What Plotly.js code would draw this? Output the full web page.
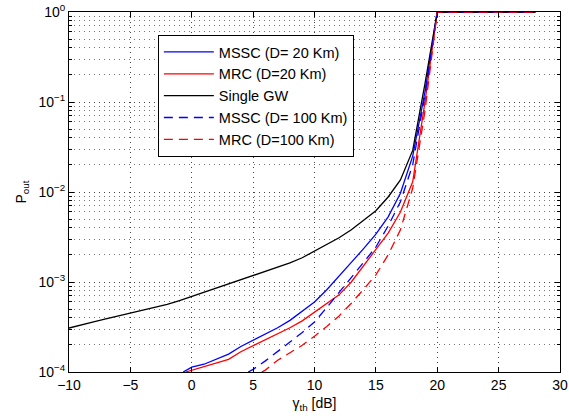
<!DOCTYPE html>
<html>
<head>
<meta charset="utf-8">
<script src="https://cdn.plot.ly/plotly-3.0.1.min.js"></script>
<style>html,body{margin:0;padding:0;background:#fff;}#chart{width:569px;height:420px;}</style>
</head>
<body>
<div id="chart"></div>
<script>
// gamma_th [dB] and outage probability values
const xSingle = [-10, -9, -8, -7, -6, -5, -4, -3, -2, -1, 0, 1, 2, 3, 4, 5, 6, 7, 8, 9, 10, 11, 12, 13, 14, 15, 16, 17, 18, 19, 20, 28];
const ySingle = [3.08e-4, 3.3e-4, 3.6e-4, 3.9e-4, 4.2e-4, 4.5e-4, 4.85e-4, 5.25e-4, 5.65e-4, 6.2e-4, 6.9e-4, 7.7e-4, 8.6e-4, 9.6e-4, 1.07e-3, 1.2e-3, 1.32e-3, 1.46e-3, 1.63e-3, 1.86e-3, 2.2e-3, 2.6e-3, 3.1e-3, 3.8e-3, 4.8e-3, 6.2e-3, 8.8e-3, 1.36e-2, 2.9e-2, 0.16, 1, 1];

const xMssc20 = [-0.7, 0, 1, 2, 3, 4, 5, 6, 7, 8, 9, 10, 11, 12, 13, 14, 15, 16, 17, 18, 19, 20, 28];
const yMssc20 = [1e-4, 1.13e-4, 1.22e-4, 1.38e-4, 1.58e-4, 1.92e-4, 2.25e-4, 2.65e-4, 3.1e-4, 3.75e-4, 4.8e-4, 6.0e-4, 8.2e-4, 1.15e-3, 1.65e-3, 2.35e-3, 3.4e-3, 5.3e-3, 9.7e-3, 2.5e-2, 0.13, 1, 1];

const xMrc20 = [-0.5, 0, 1, 2, 3, 4, 5, 6, 7, 8, 9, 10, 11, 12, 13, 14, 15, 16, 17, 18, 19, 20, 28];
const yMrc20 = [1e-4, 1.05e-4, 1.15e-4, 1.26e-4, 1.38e-4, 1.68e-4, 1.95e-4, 2.3e-4, 2.65e-4, 3.1e-4, 3.7e-4, 4.6e-4, 5.7e-4, 7.2e-4, 1.0e-3, 1.5e-3, 2.3e-3, 3.5e-3, 6e-3, 1.3e-2, 0.1, 1, 1];

const xMssc100 = [4.6, 5, 6, 7, 8, 9, 10, 11, 12, 13, 14, 15, 16, 17, 18, 19, 20, 28];
const yMssc100 = [1e-4, 1.07e-4, 1.33e-4, 1.68e-4, 2.15e-4, 2.75e-4, 3.6e-4, 5.2e-4, 7.6e-4, 1.1e-3, 1.65e-3, 2.45e-3, 4.2e-3, 7.8e-3, 2.0e-2, 0.12, 1, 1];

const xMrc100 = [5.7, 6, 7, 8, 9, 10, 11, 12, 13, 14, 15, 16, 17, 18, 19, 20, 28];
const yMrc100 = [1e-4, 1.05e-4, 1.35e-4, 1.62e-4, 1.98e-4, 2.5e-4, 3.2e-4, 4.2e-4, 5.8e-4, 8.3e-4, 1.2e-3, 2.0e-3, 3.8e-3, 1.1e-2, 0.08, 1, 1];

const xTicks = [-10, -5, 0, 5, 10, 15, 20, 25, 30];
const xTickText = ["\u221210", "\u22125", "0", "5", "10", "15", "20", "25", "30"];
const yTicks = [1e-4, 1e-3, 1e-2, 1e-1, 1];
const yTickText = ["10<sup>\u22124</sup>", "10<sup>\u22123</sup>", "10<sup>\u22122</sup>", "10<sup>\u22121</sup>", "10<sup>0</sup>"];

const lw = 1.3;
const dashPat = "9px,6px";
const traces = [
  {x: xMssc20, y: yMssc20, name: "MSSC (D= 20 Km)", mode: "lines", line: {color: "#0000ff", width: lw}},
  {x: xMrc20, y: yMrc20, name: "MRC (D=20 Km)", mode: "lines", line: {color: "#ff0000", width: lw}},
  {x: xSingle, y: ySingle, name: "Single GW", mode: "lines", line: {color: "#000000", width: lw}},
  {x: xMssc100, y: yMssc100, name: "MSSC (D= 100 Km)", mode: "lines", line: {color: "#0000ff", width: lw, dash: dashPat}},
  {x: xMrc100, y: yMrc100, name: "MRC (D=100 Km)", mode: "lines", line: {color: "#ff0000", width: lw, dash: dashPat}}
];

const font = "Liberation Sans, Arial, Helvetica, sans-serif";
const gridCol = "#444444";
const gridDash = "1px,4px";
const layout = {
  width: 569, height: 420,
  margin: {l: 69, r: 9, t: 12, b: 48, pad: 0},
  paper_bgcolor: "#ffffff", plot_bgcolor: "#ffffff",
  font: {family: font, size: 14, color: "#000"},
  showlegend: true,
  legend: {
    x: 0.181, y: 0.936, xanchor: "left", yanchor: "top",
    bgcolor: "#ffffff", bordercolor: "#000000", borderwidth: 1,
    font: {family: font, size: 14.5, color: "#000"},
    itemwidth: 50,
    tracegroupgap: 0
  },
  xaxis: {
    type: "linear", range: [-10, 30],
    tickmode: "array", tickvals: xTicks, ticktext: xTickText,
    ticks: "inside", ticklen: 5, tickcolor: "#000", tickwidth: 1,
    showline: true, linecolor: "#000", linewidth: 1, mirror: "ticks",
    showgrid: true, gridcolor: gridCol, griddash: gridDash, gridwidth: 1,
    zeroline: false,
    tickfont: {family: font, size: 14},
    title: {text: "\u03b3<sub>th</sub> [dB]", font: {family: font, size: 14}, standoff: 6}
  },
  yaxis: {
    type: "log", range: [-4, 0],
    tickmode: "array", tickvals: yTicks, ticktext: yTickText,
    ticks: "inside", ticklen: 5, tickcolor: "#000", tickwidth: 1,
    showline: true, linecolor: "#000", linewidth: 1, mirror: "ticks",
    showgrid: true, gridcolor: gridCol, griddash: gridDash, gridwidth: 1,
    zeroline: false,
    tickfont: {family: font, size: 14},
    minor: {dtick: "D1", ticks: "inside", ticklen: 3, tickcolor: "#000", showgrid: true, gridcolor: "#777777", griddash: gridDash, gridwidth: 1},
    title: {text: "P<sub>out</sub>", font: {family: font, size: 14}, standoff: 8}
  }
};

Plotly.newPlot("chart", traces, layout, {staticPlot: true, displayModeBar: false});
</script>
</body>
</html>
